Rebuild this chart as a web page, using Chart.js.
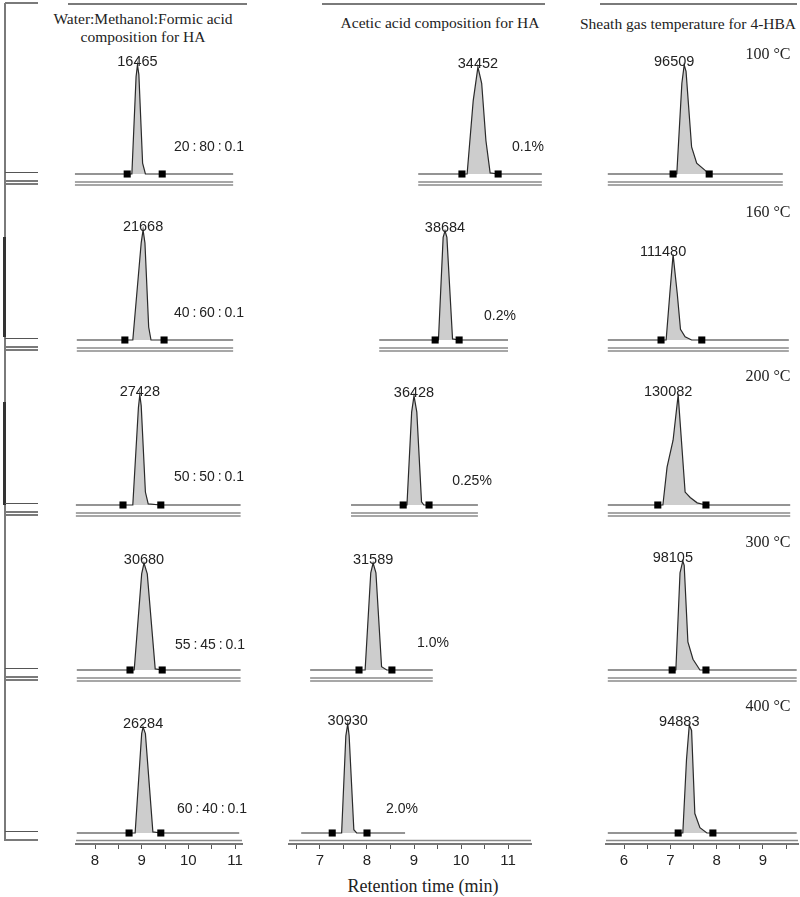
<!DOCTYPE html>
<html>
<head>
<meta charset="utf-8">
<title>Chromatograms</title>
<script src="https://cdn.jsdelivr.net/npm/chart.js@4.4.1/dist/chart.umd.min.js"></script>
<style>
  body { margin: 0; background: #fff; }
  #page { position: relative; width: 800px; height: 897px; overflow: hidden; font-family: "Liberation Serif", serif; color: #222; }
  #page canvas { position: absolute; }
  .rule { position: absolute; background: #7a7a7a; }
  .title { position: absolute; white-space: nowrap; transform: translate(-50%, -50%); font-size: 15.5px; }
</style>
</head>
<body>
<div id="page"></div>
<script>
// ----------- Data (retention time in min, signal in % of peak) -----------
// column A: Water:Methanol:Formic acid
const timesA = [
    [7.57, 8.69, 8.79, 8.88, 8.91, 8.94, 9.02, 9.08, 9.44, 10.96],
    [7.61, 8.64, 8.81, 8.99, 9.03, 9.07, 9.15, 9.20, 9.48, 10.96],
    [7.59, 8.60, 8.81, 8.93, 8.96, 8.99, 9.08, 9.14, 9.41, 11.12],
    [7.61, 8.75, 8.84, 9.00, 9.05, 9.12, 9.29, 9.44, 11.12],
    [7.61, 8.73, 8.86, 9.00, 9.03, 9.08, 9.24, 9.41, 11.09]
];
const signalA = [
    [0, 0, 0, 90, 101, 92, 10, 0, 0, 0],
    [0, 0, 0, 90, 102, 90, 12, 0, 0, 0],
    [0, 0, 0, 90, 102, 92, 12, 1, 0, 0],
    [0, 0, 0, 89, 99, 89, 1, 0, 0],
    [0, 0, 0, 92, 98, 92, 1, 0, 0]
];
const marksA = [[8.69, 9.44], [8.64, 9.48], [8.60, 9.41], [8.75, 9.44], [8.73, 9.41]];
const areasA = ['16465', '21668', '27428', '30680', '26284'];
const condA = ['20 : 80 : 0.1', '40 : 60 : 0.1', '50 : 50 : 0.1', '55 : 45 : 0.1', '60 : 40 : 0.1'];

// column B: Acetic acid
const timesB = [
    [9.09, 10.02, 10.13, 10.26, 10.36, 10.44, 10.53, 10.62, 10.79, 11.72],
    [8.26, 9.45, 9.52, 9.62, 9.66, 9.70, 9.82, 9.96, 11.00],
    [7.66, 8.77, 8.85, 8.95, 9.00, 9.06, 9.16, 9.21, 9.32, 10.36],
    [6.79, 7.83, 7.96, 8.08, 8.13, 8.19, 8.31, 8.42, 8.53, 9.40],
    [6.60, 7.26, 7.46, 7.55, 7.59, 7.62, 7.72, 7.78, 8.00, 8.81]
];
const signalB = [
    [0, 0, 0, 68, 99, 84, 31, 1, 0, 0],
    [0, 0, 0, 95, 101, 95, 1, 0, 0],
    [0, 0, 0, 86, 101, 86, 3, 0, 0, 0],
    [0, 0, 0, 90, 99, 90, 3, 0, 0, 0],
    [0, 0, 0, 90, 101, 90, 3, 0, 0, 0]
];
const marksB = [[10.02, 10.79], [9.45, 9.96], [8.77, 9.32], [7.83, 8.53], [7.26, 8.00]];
const areasB = ['34452', '38684', '36428', '31589', '30930'];
const condB = ['0.1%', '0.2%', '0.25%', '1.0%', '2.0%'];

// column C: Sheath gas temperature
const timesC = [
    [5.65, 7.06, 7.14, 7.25, 7.30, 7.34, 7.46, 7.57, 7.79, 7.84, 9.43],
    [5.65, 6.80, 6.91, 6.99, 7.06, 7.15, 7.22, 7.32, 7.46, 7.68, 9.56],
    [5.65, 6.73, 6.84, 6.93, 7.06, 7.17, 7.32, 7.43, 7.58, 7.77, 9.59],
    [5.65, 7.04, 7.12, 7.21, 7.27, 7.30, 7.38, 7.49, 7.64, 7.77, 9.73],
    [5.65, 7.17, 7.27, 7.35, 7.41, 7.46, 7.53, 7.64, 7.79, 7.92, 9.73]
];
const signalC = [
    [0, 0, 0, 84, 101, 95, 25, 10, 2, 0, 0],
    [0, 0, 0, 43, 79, 43, 10, 3, 0, 0, 0],
    [0, 0, 0, 35, 60, 102, 12, 7, 2, 0, 0],
    [0, 0, 0, 90, 101, 97, 26, 10, 0, 0, 0],
    [0, 0, 0, 68, 100, 95, 18, 5, 0, 0, 0]
];
const marksC = [[7.06, 7.84], [6.80, 7.68], [6.73, 7.77], [7.04, 7.77], [7.17, 7.92]];
const areasC = ['96509', '111480', '130082', '98105', '94883'];
const condC = ['100 °C', '160 °C', '200 °C', '300 °C', '400 °C'];

// ----------- Layout -----------
const ROW_BASE = [174, 340, 505, 670, 833];   // baseline y (px) per row
const PX_PER_PCT = 1.08;
const ABOVE = 145, BELOW = 20, AXIS_H = 30;

const COLS = [
    { times: timesA, sig: signalA, marks: marksA, areas: areasA, conds: condA,
      p0: 95, v0: 8, ppm: 46.67, left: 70, right: 262, axisLeft: 76, axisRight: 242, areaDx: 0,
      condFont: '14px "Liberation Sans"', condWs: '-1px', condPx: [209, 209, 209, 210, 212], condUp: [27, 27, 28, 25, 24] },
    { times: timesB, sig: signalB, marks: marksB, areas: areasB, conds: condB,
      p0: 320, v0: 7, ppm: 47, left: 285, right: 552, axisLeft: 289, axisRight: 531, areaDx: 0,
      condFont: '14px "Liberation Sans"', condWs: '0px', condPx: [528, 500, 472, 433, 402], condUp: [27, 24, 24, 27, 24] },
    { times: timesC, sig: signalC, marks: marksC, areas: areasC, conds: condC,
      p0: 624, v0: 6, ppm: 46.3, left: 600, right: 800, axisLeft: 606, axisRight: 798, areaDx: -10,
      condFont: '16px "Liberation Serif"', condWs: '0px', condPx: [768, 768, 768, 768, 768], condUp: [119, 127, 128, 127, 126] }
];

const page = document.getElementById('page');

function addRule(x, y, w, h, color) {
    const d = document.createElement('div');
    d.className = 'rule';
    Object.assign(d.style, { left: x + 'px', top: y + 'px', width: w + 'px', height: h + 'px' });
    if (color) d.style.background = color;
    page.appendChild(d);
}

function addTitle(text, cx, cy, size) {
    const d = document.createElement('div');
    d.className = 'title';
    d.textContent = text;
    d.style.left = cx + 'px';
    d.style.top = cy + 'px';
    if (size) d.style.fontSize = size + 'px';
    page.appendChild(d);
}

// ----------- Decorations: left bracket, header rules, titles -----------
addRule(4, 3, 1.5, 838);
addRule(3, 237, 3, 100, '#333');
addRule(3, 402, 3, 103, '#333');
addRule(5, 2, 33, 1.5);
ROW_BASE.forEach((b, i) => {
    addRule(5, b - 2, 33, 1.3, '#555');
    addRule(5, b + 6, 33, 1.5);
    if (i < 4) addRule(5, b + 9, 33, 1.5);
});
addRule(68, 3, 179, 2);
addRule(322, 3, 223, 2);
addRule(600, 3, 197, 2);

addTitle('Water:Methanol:Formic acid', 143, 19);
addTitle('composition for HA', 143, 37);
addTitle('Acetic acid composition for HA', 440, 23);
addTitle('Sheath gas temperature for 4-HBA', 688, 24);
addTitle('Retention time (min)', 423, 886, 18);

// ----------- Plugins -----------
const peakLabels = {
    id: 'peakLabels',
    afterDatasetsDraw(chart, args, o) {
        const { ctx, scales: { x, y } } = chart;
        const base = y.getPixelForValue(0);
        ctx.save();
        ctx.fillStyle = '#222';
        ctx.textAlign = 'center';
        ctx.textBaseline = 'middle';
        ctx.font = '14.5px "Liberation Sans"';
        ctx.fillText(o.area, x.getPixelForValue(o.apexX) + o.areaDx, y.getPixelForValue(o.apexY) - 3);
        ctx.font = o.condFont;
        if ('wordSpacing' in ctx) ctx.wordSpacing = o.condWs;
        ctx.fillText(o.cond, o.condX, base - o.condUp);
        ctx.restore();
    }
};

const axisBand = {
    id: 'axisBand',
    afterDatasetsDraw(chart, args, o) {
        if (!o.on) return;
        const { ctx, chartArea } = chart;
        ctx.save();
        ctx.strokeStyle = '#8a8a8a';
        ctx.lineWidth = 1.6;
        ctx.beginPath();
        ctx.moveTo(chartArea.left, chartArea.bottom - 3.5);
        ctx.lineTo(chartArea.right, chartArea.bottom - 3.5);
        ctx.stroke();
        ctx.restore();
    }
};

// ----------- Panels -----------
function makePanel(col, row) {
    const last = row === 4;
    const left = col.left, right = col.right;
    // bottom row: the plot area is narrowed to the axis extent
    const aLeft = last ? col.axisLeft : left;
    const aRight = last ? col.axisRight : right;
    const below = last ? 11 : BELOW;
    const height = ABOVE + below + (last ? AXIS_H : 0);
    const top = ROW_BASE[row] - ABOVE;

    const canvas = document.createElement('canvas');
    canvas.width = right - left;
    canvas.height = height;
    canvas.style.left = left + 'px';
    canvas.style.top = top + 'px';
    page.appendChild(canvas);

    const t = col.times[row];
    const s = col.sig[row];
    const pts = t.map((v, i) => ({ x: v, y: s[i] }));
    let apex = 0;
    s.forEach((v, i) => { if (v > s[apex]) apex = i; });
    const r1 = -8 / PX_PER_PCT, r2 = -11 / PX_PER_PCT;
    const t0 = t[0], t1 = t[t.length - 1];

    const datasets = [
        { data: col.marks[row].map(m => ({ x: m, y: 0 })), showLine: false, pointStyle: 'rect',
          pointRadius: 5, backgroundColor: '#000', borderWidth: 0, order: 0, clip: false },
        { data: pts, borderColor: '#2a2a2a', borderWidth: 1.2, pointRadius: 0, tension: 0,
          fill: 'origin', backgroundColor: '#cdcdcd', order: 1, clip: false }
    ];
    if (!last) {
        datasets.push({ data: [{ x: t0, y: r1 }, { x: t1, y: r1 }], borderColor: '#8a8a8a', borderWidth: 1.6, pointRadius: 0, order: 2 });
        datasets.push({ data: [{ x: t0, y: r2 }, { x: t1, y: r2 }], borderColor: '#8a8a8a', borderWidth: 1.6, pointRadius: 0, order: 2 });
    }

    const xScale = {
        type: 'linear',
        min: col.v0 + (aLeft - col.p0) / col.ppm,
        max: col.v0 + (aRight - col.p0) / col.ppm,
        display: last,
        position: 'bottom',
        border: { display: true, color: '#777', width: 2 },
        grid: { drawOnChartArea: false, drawTicks: true, tickLength: 5, color: '#555', lineWidth: 1 },
        ticks: {
            stepSize: 0.5, includeBounds: false, autoSkip: false, maxRotation: 0, padding: 3,
            color: '#222', font: { family: 'Liberation Sans', size: 15 },
            callback: v => Number.isInteger(v) ? String(v) : ''
        }
    };
    if (last) xScale.afterFit = sc => { sc.height = AXIS_H; };

    new Chart(canvas.getContext('2d'), {
        type: 'line',
        data: { datasets: datasets },
        options: {
            responsive: false,
            animation: false,
            events: [],
            layout: { padding: { left: aLeft - left, right: right - aRight, top: 0, bottom: 0 }, autoPadding: false },
            plugins: {
                legend: { display: false },
                tooltip: { enabled: false },
                peakLabels: {
                    area: col.areas[row], apexX: t[apex], apexY: s[apex], areaDx: col.areaDx,
                    cond: col.conds[row], condFont: col.condFont, condWs: col.condWs,
                    condX: col.condPx[row] - left, condUp: col.condUp[row]
                },
                axisBand: { on: last }
            },
            scales: {
                x: xScale,
                y: {
                    display: false,
                    min: -below / PX_PER_PCT,
                    max: ABOVE / PX_PER_PCT
                }
            }
        },
        plugins: [peakLabels, axisBand]
    });
}

COLS.forEach(col => {
    for (let r = 0; r < 5; r++) makePanel(col, r);
});
</script>
</body>
</html>
